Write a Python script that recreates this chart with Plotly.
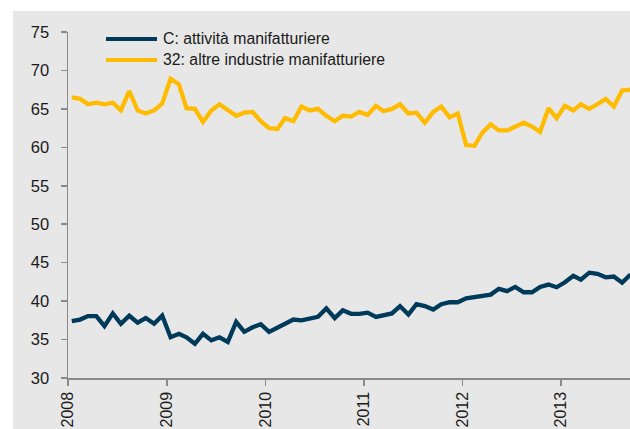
import plotly.graph_objects as go
import pandas as pd

# Monthly data, Jan 2008 - Sep 2013
months = pd.date_range("2008-01-01", periods=69, freq="MS") + pd.Timedelta(days=14)

manifatturiere = [
    37.4, 37.6, 38.05, 38.05, 36.75, 38.4, 37.05, 38.1, 37.2, 37.8, 37.05, 38.1,
    35.3, 35.75, 35.3, 34.45, 35.75, 34.9, 35.3, 34.7, 37.3, 36.0, 36.6, 37.0,
    36.0, 36.6, 37.05, 37.6, 37.5, 37.7, 37.95, 39.05, 37.8, 38.8, 38.35, 38.35,
    38.5, 37.95, 38.2, 38.4, 39.35, 38.25, 39.6, 39.35, 38.9, 39.6, 39.85, 39.85,
    40.35, 40.5, 40.7, 40.85, 41.6, 41.3, 41.85, 41.15, 41.15, 41.85, 42.15, 41.8,
    42.45, 43.3, 42.8, 43.7, 43.55, 43.1, 43.2, 42.4, 43.45,
]

altre = [
    66.5, 66.3, 65.6, 65.8, 65.6, 65.8, 64.8, 67.3, 64.8, 64.4, 64.8, 65.7,
    68.9, 68.2, 65.1, 65.0, 63.3, 64.8, 65.6, 64.8, 64.1, 64.5, 64.6, 63.4,
    62.5, 62.4, 63.8, 63.4, 65.3, 64.8, 65.0, 64.1, 63.4, 64.1, 64.0, 64.6,
    64.2, 65.4, 64.7, 65.0, 65.6, 64.4, 64.5, 63.2, 64.6, 65.3, 63.9, 64.4,
    60.3, 60.2, 61.9, 63.0, 62.2, 62.2, 62.7, 63.2, 62.7, 62.0, 65.1, 63.8,
    65.4, 64.8, 65.6, 65.0, 65.6, 66.3, 65.3, 67.4, 67.5,
]

series_names = ["C: attività manifatturiere", "32: altre industrie manifatturiere"]
series_colors = ["#003a5a", "#ffbb00"]
y_ticks = [30, 35, 40, 45, 50, 55, 60, 65, 70, 75]
x_ticks = ["2008-01-01", "2009-01-01", "2010-01-01", "2011-01-01", "2012-01-01", "2013-01-01"]
x_ticklabels = ["2008", "2009", "2010", "2011", "2012", "2013"]
subtitle = "(valori in percentuale)"

W, H = 630, 429
ML, MR, MT, MB = 68, 0, 32, 51
PW, PH = W - ML - MR, H - MT - MB

def px_x(px):
    return (px - ML) / PW

def px_y(py):
    return 1 - (py - MT) / PH

FONT = "Liberation Sans, Arial, sans-serif"

fig = go.Figure()
for vals, name, col in [(manifatturiere, series_names[0], series_colors[0]),
                        (altre, series_names[1], series_colors[1])]:
    fig.add_trace(go.Scatter(x=months, y=vals, mode="lines", name=name,
                             line=dict(color=col, width=4.3), showlegend=False))

shapes = [
    dict(type="rect", xref="paper", yref="paper", x0=px_x(13), x1=1.05,
         y0=px_y(440), y1=px_y(11), fillcolor="#e7e7e7", line=dict(width=0),
         layer="below"),
]
annotations = []
legend_rows = [39, 60]
for name, col, row in zip(series_names, series_colors, legend_rows):
    shapes.append(dict(type="line", xref="paper", yref="paper",
                       x0=px_x(106), x1=px_x(157), y0=px_y(row), y1=px_y(row),
                       line=dict(color=col, width=4)))
    annotations.append(dict(xref="paper", yref="paper", x=px_x(161), y=px_y(row),
                            xanchor="left", yanchor="middle", text=name,
                            showarrow=False, font=dict(family=FONT, size=15.8, color="#1a1a1a")))

annotations.append(dict(xref="paper", yref="paper", x=px_x(629), y=px_y(-11),
                        xanchor="right", yanchor="middle", text=subtitle,
                        showarrow=False, font=dict(family=FONT, size=17, color="#1a1a1a")))

fig.update_layout(
    width=W, height=H,
    margin=dict(l=ML, r=MR, t=MT, b=MB, pad=0, autoexpand=False),
    paper_bgcolor="white",
    plot_bgcolor="rgba(0,0,0,0)",
    font=dict(family=FONT, size=16, color="#1a1a1a"),
    shapes=shapes,
    annotations=annotations,
    showlegend=False,
    hovermode=False,
)
fig.update_xaxes(
    type="date", range=["2008-01-01", "2013-09-13"],
    tickvals=x_ticks, ticktext=x_ticklabels, tickangle=-90,
    showgrid=False, zeroline=False, automargin=False,
    showline=True, linecolor="#8a8a8a", linewidth=1.5,
    ticks="outside", ticklen=6, tickcolor="#8a8a8a", tickwidth=1.5,
    tickfont=dict(family=FONT, size=16, color="#1a1a1a"),
    ticklabelstandoff=0,
)
fig.update_yaxes(
    range=[30, 75], tickvals=y_ticks,
    showgrid=False, zeroline=False, automargin=False,
    showline=True, linecolor="#8a8a8a", linewidth=1.5,
    ticks="outside", ticklen=6, tickcolor="#8a8a8a", tickwidth=1.5,
    tickfont=dict(family=FONT, size=16.5, color="#1a1a1a"),
    ticklabelstandoff=8,
)

fig.write_html(
    "out.html",
    config={"displayModeBar": False, "staticPlot": True},
    post_script="document.body.style.margin='0';document.body.style.overflow='hidden';",
)
